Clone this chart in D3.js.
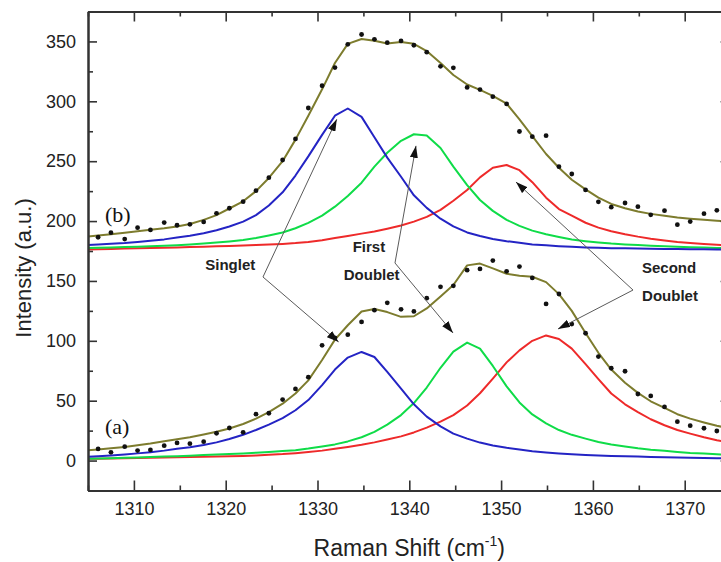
<!DOCTYPE html>
<html>
<head>
<meta charset="utf-8">
<script src="https://cdn.jsdelivr.net/npm/d3@7"></script>
<style>
  html, body { margin: 0; padding: 0; background: #fff; }
  svg { display: block; }
</style>
</head>
<body>
<svg id="chart" width="721" height="562"></svg>
<script>
// ---------------- DATA ----------------
// Measured Raman shift positions (cm^-1) of the data points
const ramanShift = [1306.1,1307.5,1309.0,1310.4,1311.8,1313.3,1314.7,1316.1,1317.6,1319.0,
  1320.4,1321.9,1323.3,1324.7,1326.2,1327.6,1329.0,1330.5,1331.9,1333.3,
  1334.8,1336.2,1337.6,1339.1,1340.5,1341.9,1343.4,1344.8,1346.3,1347.7,
  1349.1,1350.6,1352.0,1353.4,1354.9,1356.3,1357.7,1359.2,1360.6,1362.0,
  1363.5,1364.9,1366.3,1367.8,1369.2,1370.6,1372.1,1373.5];
// Measured intensities, spectrum (b)
const measuredB = [186.5,190.3,185,194.5,192.6,198.7,196.5,197.3,199.3,206.5,
  210.7,216.2,225.4,236.2,251,268.6,294.4,313,328.2,347.6,
  355.8,351.8,349,350.4,346.8,341,329.2,328,311.6,309.8,
  303.9,297.8,274.8,270.5,271.3,245.4,239.3,226,216.1,211.6,
  215.1,212,205.2,208.7,197,199.6,206.2,209];
// Measured intensities, spectrum (a)
const measuredA = [9.7,6.9,11.6,8.3,8.9,12.4,14.7,14.1,15.8,22.8,
  27.2,23.6,38.7,39.5,50.9,59.8,69.6,96.2,102.5,105.1,
  115.8,125.6,131.7,126.3,124.5,135.6,145.1,145.9,159,160,
  167,158,162,152.5,130.8,139.1,114,106.3,86.8,77.1,
  74.6,55.6,54,44.8,32.5,29.1,27,24.7];

// Positions at which the fitted curves are drawn
const fitShift = [1305.0,1306.1,1307.5,1309.0,1310.4,1311.8,1313.3,1314.7,1316.1,1317.6,1319.0,
  1320.4,1321.9,1323.3,1324.7,1326.2,1327.6,1329.0,1330.5,1331.9,1333.3,
  1334.8,1336.2,1337.6,1339.1,1340.5,1341.9,1343.4,1344.8,1346.3,1347.7,
  1349.1,1350.6,1352.0,1353.4,1354.9,1356.3,1357.7,1359.2,1360.6,1362.0,
  1363.5,1364.9,1366.3,1367.8,1369.2,1370.6,1372.1,1373.5,1375.0];

// Spectrum (b) fits
const fitTotalB = [187,188,189,190.3,191.5,192.7,194,195.5,197.5,201,205,
  210.5,216.5,225,236,250,268,288,310,332,348,
  352,350.6,348.2,349.6,348,342,332,322,314,309.5,
  304.5,298,285,271,256,244.5,234.5,226.5,219.5,214.3,
  210.7,208,206,204.4,203,202,201,200.3,199.7];
const singletB = [180,180.4,181,181.7,182.6,183.5,184.7,186.2,187.8,189.8,192.3,
  195.5,199.5,205,213,224,238,254,272,288,294,
  287,270,253,237,221.5,211,202,195.5,190.5,187.5,
  185,183.2,181.8,180.5,179.7,179,178.5,178,177.7,177.4,
  177.2,177,176.8,176.7,176.6,176.5,176.4,176.3,176.3];
const firstDoubletB = [177.5,177.7,178,178.3,178.6,179,179.4,179.9,180.5,181.2,182,
  183,184.2,185.8,188,190.5,194,198.5,204.5,212,221,
  232,245.5,257,267,272.5,271.5,261,245.5,230,217.6,
  208.5,201,196,192,189,186.7,184.6,183.2,182.1,181.2,
  180.5,180,179.4,178.9,178.5,178.2,177.9,177.6,177.4];
const secondDoubletB = [176.3,176.5,176.7,177,177.3,177.6,177.8,178,178.3,178.6,178.9,
  179.2,179.6,180,180.4,180.9,181.6,182.6,184,185.8,187.6,
  189.5,191.3,193.6,196.3,199.5,203.5,209.3,217,226,236.5,
  244.5,246.8,242.5,232.5,219.5,210,204.5,198.6,194.5,191.5,
  189,187,185.3,183.8,182.5,181.6,180.8,180.2,179.7];

// Spectrum (a) fits
const fitTotalA = [8.7,9.3,10.2,11.4,12.7,14.2,16.2,17.8,19.5,21.7,24,
  26.8,30.5,35,40.5,47.5,56,67,84,101,113,
  124.5,126.5,124,120,120.5,127,137,146.6,163,164.5,
  160.5,156,154.3,153.5,149,139,125,106.5,90,76,
  65,56.5,49.5,44,38.7,35,31.8,29,26.8];
const singletA = [3.2,3.7,4.3,5.1,6,7,8.3,9.8,11.2,13,15.2,
  18,21.5,25.5,30,35.5,42,50.5,63,76,86,
  90.7,86.5,74,60,47,36.7,28.5,22.5,18.3,15,
  12.6,10.7,9.2,7.8,6.8,6,5.3,4.7,4.3,3.9,
  3.6,3.3,3,2.8,2.6,2.4,2.2,2,1.9];
const firstDoubletA = [1.5,1.7,2,2.3,2.6,2.9,3.3,3.7,4.1,4.6,5.1,
  5.5,6,6.6,7.2,7.9,8.7,10,11.8,13.5,16,
  19.5,24,30,38,48,61,77.5,91,98.5,93.5,
  79,62,48.5,38.5,31,25.5,21.5,18.3,15.5,13.5,
  11.8,10.3,9.1,8.1,7.2,6.4,5.8,5.2,4.8];
const secondDoubletA = [1.5,1.6,1.8,2,2.2,2.4,2.6,2.8,3,3.2,3.4,
  3.6,3.9,4.3,4.8,5.4,6.2,7.2,8.3,9.8,11.4,
  13.2,15.2,17.6,20.2,23.5,27.5,32.5,38,46,56.2,
  68.5,82,92,100,104.5,101.5,93.5,80.5,68,56,
  47,40.5,34.5,29.5,25.5,22.5,19.5,17,15];

// Axis ticks
const xMajorTicks = [1310,1320,1330,1340,1350,1360,1370];
const xMinorTicks = [1305,1315,1325,1335,1345,1355,1365,1375];
const yMajorTicks = [0,50,100,150,200,250,300,350];
const yMinorTicks = [-25,25,75,125,175,225,275,325,375];

// Annotations (data coordinates)
const annotationLabels = [
  {text: "Singlet", x: 1320.5, y: 163.4},
  {text: "First", x: 1335.6, y: 178.4},
  {text: "Doublet", x: 1335.9, y: 155.0},
  {text: "Second", x: 1368.3, y: 160.8},
  {text: "Doublet", x: 1368.4, y: 137.4}
];
const annotationArrows = [
  {from: [1324.06, 153.3], to: [1332.1, 285.0]},
  {from: [1324.06, 153.3], to: [1332.3, 99.1]},
  {from: [1338.44, 165.0], to: [1340.73, 262.8]},
  {from: [1338.44, 165.0], to: [1344.76, 106.6]},
  {from: [1364.37, 142.4], to: [1351.62, 232.6]},
  {from: [1364.37, 142.4], to: [1356.2, 109.9]}
];
const panelLabels = [
  {text: "(b)", x: 1306.85, y: 198.8},
  {text: "(a)", x: 1306.85, y: 22.2}
];

// ---------------- CHART ----------------
const svg = d3.select("#chart");
const plotLeft = 88, plotRight = 730.6, plotTop = 11.5, plotBottom = 490.5;
const x = d3.scaleLinear().domain([1305, 1375]).range([plotLeft, plotRight]);
const y = d3.scaleLinear().domain([-25, 375]).range([plotBottom, plotTop]);

const colors = {
  olive: "#7d7c2e",
  blue: "#2424c4",
  green: "#0fdc48",
  red: "#ee2a2a"
};

const defs = svg.append("defs");
defs.append("clipPath").attr("id", "plotclip")
  .append("rect").attr("x", plotLeft).attr("y", plotTop)
  .attr("width", plotRight - plotLeft).attr("height", plotBottom - plotTop);

defs.append("marker").attr("id", "arrowhead")
  .attr("markerUnits", "userSpaceOnUse")
  .attr("markerWidth", 13).attr("markerHeight", 8)
  .attr("refX", 12).attr("refY", 4)
  .attr("orient", "auto")
  .append("path").attr("d", "M0,0 L12,4 L0,8 Z").attr("fill", "#111");

const plot = svg.append("g").attr("clip-path", "url(#plotclip)");

const line = (vals) => d3.line()
  .x((d, i) => x(fitShift[i]))
  .y(d => y(d))(vals);

const curves = [
  {vals: secondDoubletB, c: colors.red},
  {vals: firstDoubletB, c: colors.green},
  {vals: singletB, c: colors.blue},
  {vals: secondDoubletA, c: colors.red},
  {vals: firstDoubletA, c: colors.green},
  {vals: singletA, c: colors.blue},
  {vals: fitTotalB, c: colors.olive},
  {vals: fitTotalA, c: colors.olive}
];
plot.selectAll("path.curve").data(curves).join("path")
  .attr("class", "curve")
  .attr("d", d => line(d.vals))
  .attr("fill", "none")
  .attr("stroke", d => d.c)
  .attr("stroke-width", 2)
  .attr("stroke-linejoin", "round");

const dots = [];
ramanShift.forEach((s, i) => {
  dots.push({s, v: measuredB[i]});
  dots.push({s, v: measuredA[i]});
});
plot.selectAll("circle.dot").data(dots).join("circle")
  .attr("class", "dot")
  .attr("cx", d => x(d.s)).attr("cy", d => y(d.v))
  .attr("r", 2.4).attr("fill", "#111");

// Annotations
svg.selectAll("line.arrow").data(annotationArrows).join("line")
  .attr("class", "arrow")
  .attr("x1", d => x(d.from[0])).attr("y1", d => y(d.from[1]))
  .attr("x2", d => x(d.to[0])).attr("y2", d => y(d.to[1]))
  .attr("stroke", "#5a5a5a").attr("stroke-width", 1)
  .attr("marker-end", "url(#arrowhead)");

svg.selectAll("text.ann").data(annotationLabels).join("text")
  .attr("class", "ann")
  .attr("x", d => x(d.x)).attr("y", d => y(d.y))
  .attr("dy", "0.35em")
  .attr("text-anchor", "middle")
  .attr("font-family", "Liberation Sans, Arial, sans-serif")
  .attr("font-weight", "bold")
  .attr("font-size", 15)
  .attr("fill", "#222")
  .text(d => d.text);

svg.selectAll("text.panel").data(panelLabels).join("text")
  .attr("class", "panel")
  .attr("x", d => x(d.x)).attr("y", d => y(d.y))
  .attr("font-family", "Liberation Serif, Times New Roman, serif")
  .attr("font-size", 22)
  .attr("fill", "#111")
  .text(d => d.text);

// Axes
const axisStyle = g => {
  g.select(".domain").attr("stroke", "#333").attr("stroke-width", 2);
  g.selectAll(".tick line").attr("stroke", "#333").attr("stroke-width", 1.6);
  g.selectAll(".tick text")
    .attr("font-family", "Liberation Sans, Arial, sans-serif")
    .attr("font-size", 18).attr("fill", "#222");
};

// bottom
svg.append("g").attr("transform", `translate(0,${plotBottom})`)
  .call(d3.axisBottom(x).tickValues(xMinorTicks).tickSize(-5).tickSizeOuter(0).tickFormat(""))
  .call(axisStyle);
svg.append("g").attr("transform", `translate(0,${plotBottom})`)
  .call(d3.axisBottom(x).tickValues(xMajorTicks).tickSize(-10).tickSizeOuter(0).tickPadding(12).tickFormat(d3.format("d")))
  .call(axisStyle);
// top
svg.append("g").attr("transform", `translate(0,${plotTop})`)
  .call(d3.axisTop(x).tickValues(xMinorTicks).tickSize(-5).tickSizeOuter(0).tickFormat(""))
  .call(axisStyle);
svg.append("g").attr("transform", `translate(0,${plotTop})`)
  .call(d3.axisTop(x).tickValues(xMajorTicks).tickSize(-10).tickSizeOuter(0).tickFormat(""))
  .call(axisStyle);
// left
svg.append("g").attr("transform", `translate(${plotLeft},0)`)
  .call(d3.axisLeft(y).tickValues(yMinorTicks).tickSize(-5).tickSizeOuter(0).tickFormat(""))
  .call(axisStyle);
svg.append("g").attr("transform", `translate(${plotLeft},0)`)
  .call(d3.axisLeft(y).tickValues(yMajorTicks).tickSize(-9).tickSizeOuter(0).tickPadding(12).tickFormat(d3.format("d")))
  .call(axisStyle);
// right
svg.append("g").attr("transform", `translate(${plotRight},0)`)
  .call(d3.axisRight(y).tickValues(yMinorTicks).tickSize(-5).tickSizeOuter(0).tickFormat(""))
  .call(axisStyle);
svg.append("g").attr("transform", `translate(${plotRight},0)`)
  .call(d3.axisRight(y).tickValues(yMajorTicks).tickSize(-10).tickSizeOuter(0).tickFormat(""))
  .call(axisStyle);

// Axis titles
const xt = svg.append("text")
  .attr("x", (plotLeft + plotRight) / 2).attr("y", 556)
  .attr("text-anchor", "middle")
  .attr("font-family", "Liberation Sans, Arial, sans-serif")
  .attr("font-size", 23).attr("fill", "#222");
xt.append("tspan").text("Raman Shift (cm");
xt.append("tspan").attr("font-size", 14).attr("dy", -10).text("-1");
xt.append("tspan").attr("dy", 10).text(")");

svg.append("text")
  .attr("transform", "translate(31,268) rotate(-90)")
  .attr("text-anchor", "middle")
  .attr("font-family", "Liberation Sans, Arial, sans-serif")
  .attr("font-size", 22).attr("fill", "#222")
  .text("Intensity (a.u.)");
</script>
</body>
</html>
